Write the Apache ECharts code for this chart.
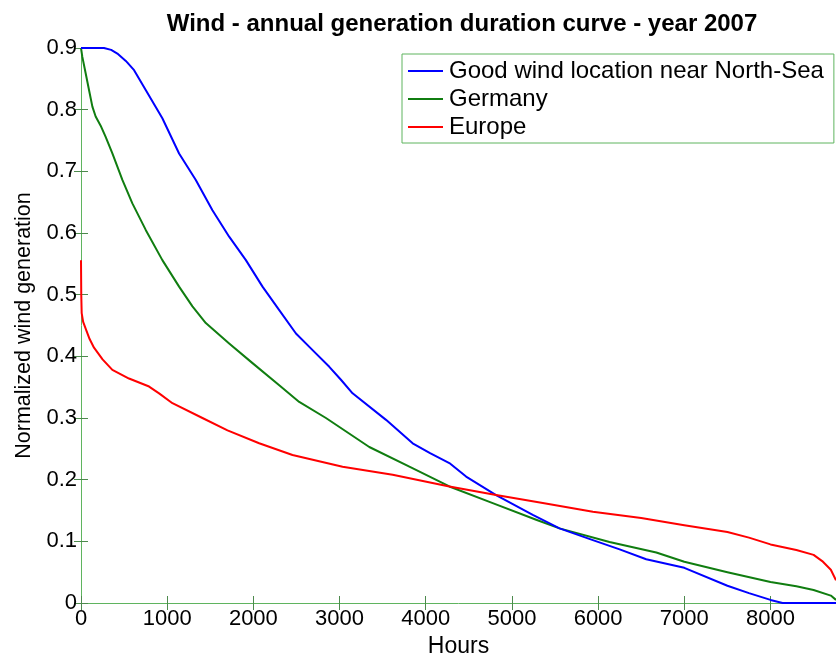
<!DOCTYPE html>
<html>
<head>
<meta charset="utf-8">
<script src="https://cdn.jsdelivr.net/npm/echarts@6/dist/echarts.min.js"></script>
<style>
html,body{margin:0;padding:0;background:#fff;}
#chart{width:836px;height:657px;}
</style>
</head>
<body>
<div id="chart"></div>
<script>
const title = 'Wind - annual generation duration curve - year 2007';
const xTickValues = [0, 1000, 2000, 3000, 4000, 5000, 6000, 7000, 8000];
const yTickValues = [0, 0.1, 0.2, 0.3, 0.4, 0.5, 0.6, 0.7, 0.8, 0.9];
const seriesNames = ['Good wind location near North-Sea', 'Germany', 'Europe'];

const northSeaHours = [0, 267, 350, 422, 520, 616, 751, 944, 1138, 1332, 1525, 1719, 1913, 2106, 2300, 2494, 2687, 2881, 3016, 3151, 3539, 3848, 4050, 4274, 4468, 4816, 5242, 5552, 5939, 6250, 6558, 7000, 7500, 7750, 8000, 8140, 8760];
const northSeaValues = [0.9, 0.9, 0.897, 0.891, 0.879, 0.864, 0.832, 0.786, 0.729, 0.686, 0.637, 0.594, 0.556, 0.513, 0.475, 0.437, 0.410, 0.383, 0.362, 0.340, 0.297, 0.259, 0.243, 0.227, 0.205, 0.175, 0.143, 0.121, 0.102, 0.087, 0.071, 0.057, 0.028, 0.016, 0.005, 0, 0];

const germanyHours = [0, 15, 54, 93, 132, 170, 228, 286, 364, 480, 596, 751, 944, 1138, 1293, 1448, 1719, 1990, 2300, 2532, 2842, 3345, 3810, 4274, 4777, 5281, 5552, 6132, 6675, 7000, 7500, 8000, 8300, 8500, 8700, 8760];
const germanyValues = [0.9, 0.886, 0.859, 0.832, 0.805, 0.789, 0.774, 0.756, 0.729, 0.686, 0.648, 0.605, 0.556, 0.513, 0.481, 0.454, 0.421, 0.389, 0.353, 0.326, 0.300, 0.253, 0.221, 0.189, 0.162, 0.135, 0.121, 0.099, 0.082, 0.067, 0.050, 0.034, 0.027, 0.021, 0.012, 0.005];

const europeHours = [0, 3, 8, 25, 54, 100, 151, 250, 364, 557, 790, 906, 1061, 1409, 1700, 2067, 2454, 3035, 3616, 4274, 4816, 5358, 5939, 6500, 7000, 7500, 7750, 8000, 8300, 8500, 8600, 8700, 8760];
const europeValues = [0.556, 0.50, 0.470, 0.456, 0.445, 0.428, 0.414, 0.395, 0.378, 0.364, 0.351, 0.340, 0.324, 0.300, 0.280, 0.259, 0.240, 0.221, 0.208, 0.189, 0.175, 0.162, 0.148, 0.138, 0.126, 0.115, 0.106, 0.095, 0.086, 0.078, 0.068, 0.054, 0.037];

const zip = (h, v) => h.map((x, i) => [x, v[i]]);

const axisGreen = '#5fb45f';
const tickColor = '#4d8a4d';
const font = 'Arial, "Liberation Sans", sans-serif';

const chart = echarts.init(document.getElementById('chart'));
chart.setOption({
  animation: false,
  backgroundColor: '#fff',
  title: {
    text: title,
    left: 457, textAlign: 'center', top: 7,
    textStyle: {fontFamily: font, fontSize: 24, fontWeight: 'bold', color: '#000'}
  },
  grid: {left: 81, right: 0, top: 48, bottom: 54, outerBoundsMode: 'none', containLabel: false},
  legend: {
    orient: 'vertical',
    left: 402, top: 54,
    padding: [5, 10, 4, 6],
    itemGap: 4,
    itemWidth: 35, itemHeight: 2,
    itemStyle: {borderWidth: 0},
    borderColor: axisGreen, borderWidth: 1,
    backgroundColor: '#fff',
    icon: 'rect',
    data: seriesNames,
    textStyle: {fontFamily: font, fontSize: 24, lineHeight: 24, color: '#000', padding: [0, 0, 0, 1]}
  },
  xAxis: [{
    type: 'value', min: 0, max: 8760, interval: 1000,
    name: 'Hours', nameLocation: 'middle', nameGap: 30,
    nameTextStyle: {fontFamily: font, fontSize: 23, color: '#000'},
    axisLine: {show: true, lineStyle: {color: axisGreen, width: 1}},
    axisTick: {show: true, inside: true, length: 7, lineStyle: {color: tickColor}},
    axisLabel: {fontFamily: font, fontSize: 22, color: '#000', margin: 5, showMaxLabel: false,
      formatter: v => xTickValues.includes(v) ? String(v) : ''},
    splitLine: {show: false}
  }, {
    type: 'value', min: 0, max: 8760, interval: 1000, position: 'top',
    axisLine: {show: false},
    axisTick: {show: true, inside: true, length: 7, lineStyle: {color: tickColor}},
    axisLabel: {show: false}, splitLine: {show: false}
  }],
  yAxis: [{
    type: 'value', min: 0, max: 0.9, interval: 0.1,
    name: 'Normalized wind generation', nameLocation: 'middle', nameGap: 43,
    nameTextStyle: {fontFamily: font, fontSize: 21.5, color: '#000'},
    axisLine: {show: true, lineStyle: {color: axisGreen, width: 1}},
    axisTick: {show: true, inside: true, length: 7, lineStyle: {color: tickColor}},
    axisLabel: {fontFamily: font, fontSize: 22, color: '#000', margin: 4,
      formatter: v => { const t = yTickValues.find(y => Math.abs(y - v) < 1e-9); return t === undefined ? '' : (t === 0 ? '0' : t.toFixed(1)); }},
    splitLine: {show: false}
  }, {
    type: 'value', min: 0, max: 0.9, interval: 0.1, position: 'right',
    axisLine: {show: false},
    axisTick: {show: true, inside: true, length: 7, lineStyle: {color: tickColor}},
    axisLabel: {show: false}, splitLine: {show: false}
  }],
  series: [
    {name: seriesNames[0], type: 'line', data: zip(northSeaHours, northSeaValues), showSymbol: false, symbol: 'none',
      lineStyle: {color: '#0000ff', width: 2, join: 'round'}, itemStyle: {color: '#0000ff'}, z: 3},
    {name: seriesNames[1], type: 'line', data: zip(germanyHours, germanyValues), showSymbol: false, symbol: 'none',
      lineStyle: {color: '#107d10', width: 2, join: 'round'}, itemStyle: {color: '#107d10'}, z: 2},
    {name: seriesNames[2], type: 'line', data: zip(europeHours, europeValues), showSymbol: false, symbol: 'none',
      lineStyle: {color: '#ff0000', width: 2, join: 'round'}, itemStyle: {color: '#ff0000'}, z: 4}
  ]
});
</script>
</body>
</html>
